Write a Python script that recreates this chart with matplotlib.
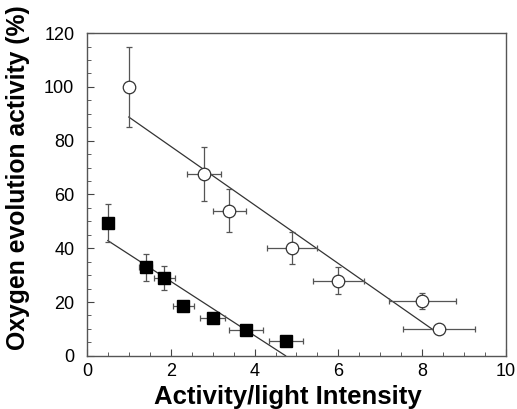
import matplotlib
matplotlib.use("Agg")
import matplotlib.pyplot as plt
import numpy as np
from matplotlib.ticker import MultipleLocator

# Open circles
circ_x = [1.0, 2.8, 3.4, 4.9, 6.0, 8.0, 8.4]
circ_y = [100, 67.5, 54, 40, 28, 20.5, 10]
circ_xerr = [0.05, 0.4, 0.4, 0.6, 0.6, 0.8, 0.85]
circ_yerr = [15, 10, 8, 6, 5, 3, 1]

# Filled squares
sq_x = [0.5, 1.4, 1.85, 2.3, 3.0, 3.8, 4.75]
sq_y = [49.5, 33, 29, 18.5, 14, 9.5, 5.5]
sq_xerr = [0.05, 0.15, 0.25, 0.25, 0.3, 0.4, 0.4]
sq_yerr = [7, 5, 4.5, 2, 1.5, 1, 0.5]

# Linear fits: (intercept, slope, x_start, x_end)
circ_fit = (99.7, -10.9, 1.0, 8.3)
sq_fit = (47.9, -10.1, 0.5, 4.74)

fig = plt.figure(figsize=(5.17, 4.09), dpi=100)
ax = fig.add_axes([0.168, 0.130, 0.811, 0.789])
plt.rcParams['font.family'] = ['Liberation Sans', 'DejaVu Sans']

for fit in (circ_fit, sq_fit):
    b, m, x0, x1 = fit
    xs = np.array([x0, x1])
    ax.plot(xs, b + m * xs, color='#333333', lw=0.9, zorder=2)

ax.errorbar(circ_x, circ_y, xerr=circ_xerr, yerr=circ_yerr, fmt='o',
            mfc='white', mec='#333333', ms=9, mew=0.9, ecolor='#555555',
            elinewidth=0.9, capsize=2.5, capthick=0.9, zorder=3)
ax.errorbar(sq_x, sq_y, xerr=sq_xerr, yerr=sq_yerr, fmt='s',
            mfc='black', mec='black', ms=9, ecolor='#555555',
            elinewidth=0.9, capsize=2.5, capthick=0.9, zorder=3)

ax.set_xlim(0, 10)
ax.set_ylim(0, 120)
ax.xaxis.set_major_locator(MultipleLocator(2))
ax.xaxis.set_minor_locator(MultipleLocator(0.5))
ax.yaxis.set_major_locator(MultipleLocator(20))
ax.yaxis.set_minor_locator(MultipleLocator(5))
ax.tick_params(which='both', direction='in', color='#444444')
ax.tick_params(which='major', length=5, labelsize=13)
ax.tick_params(axis='y', which='major', pad=9)
ax.tick_params(axis='x', which='major', pad=5)
ax.tick_params(which='minor', length=3)
for lab in ax.get_xticklabels() + ax.get_yticklabels():
    lab.set_fontfamily('Liberation Sans')
for s in ax.spines.values():
    s.set_color('#555555')
    s.set_linewidth(1.0)

xl = ax.set_xlabel('Activity/light Intensity', fontsize=18.5, fontweight='bold',
                   family='Liberation Sans')
yl = ax.set_ylabel('Oxygen evolution activity (%)', fontsize=17.8, fontweight='bold',
                   family='Liberation Sans')
xl.set_va('center')
yl.set_va('center')
ax.xaxis.set_label_coords(0.48, -0.128)
ax.yaxis.set_label_coords(-0.165, 0.551)

fig.savefig('out.png', dpi=100)
